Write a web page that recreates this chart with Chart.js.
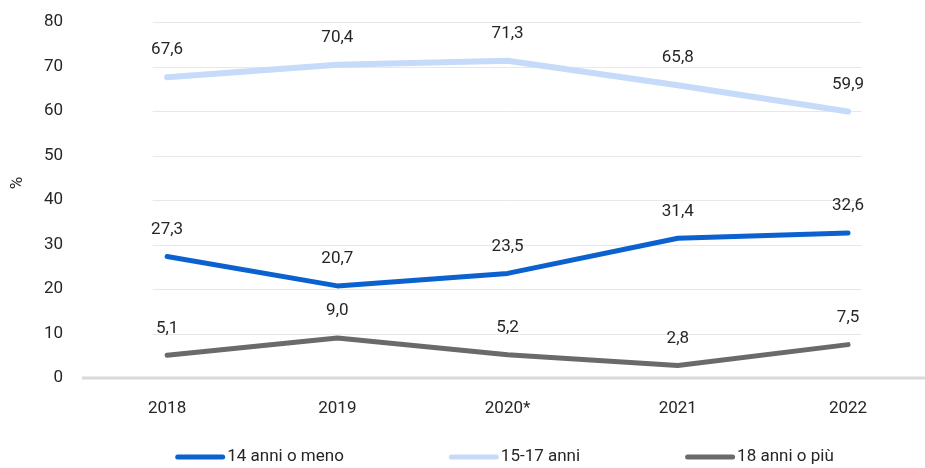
<!DOCTYPE html>
<html>
<head>
<meta charset="utf-8">
<script src="https://cdn.jsdelivr.net/npm/chart.js@4"></script>
<style>
html,body{margin:0;padding:0;background:#fff;}
#wrap{width:925px;height:468px;position:relative;}
</style>
</head>
<body>
<div id="wrap"><canvas id="c" width="925" height="468"></canvas></div>
<script>
const categories = ['2018', '2019', '2020*', '2021', '2022'];
const under14 = [27.3, 20.7, 23.5, 31.4, 32.6];
const age15to17 = [67.6, 70.4, 71.3, 65.8, 59.9];
const over18 = [5.1, 9.0, 5.2, 2.8, 7.5];
const seriesNames = ['14 anni o meno', '15-17 anni', '18 anni o più'];
const yTicks = [0, 10, 20, 30, 40, 50, 60, 70, 80];
const yTitle = '%';

const FONT = "Roboto, 'Liberation Sans', sans-serif";
const colors = ['#0b62cf', '#c6dafa', '#6a6a6a'];

function pts(arr){ return arr.map((v,i)=>({x:i,y:v})); }

const labelPlugin = {
  id: 'valueLabels',
  afterDatasetsDraw(chart){
    const ctx = chart.ctx;
    ctx.save();
    ctx.font = '17px ' + FONT;
    ctx.fillStyle = '#262626';
    ctx.textAlign = 'center';
    ctx.textBaseline = 'middle';
    chart.data.datasets.forEach((ds, di) => {
      const meta = chart.getDatasetMeta(di);
      meta.data.forEach((pt, i) => {
        const v = ds.data[i].y;
        ctx.fillText(v.toFixed(1).replace('.', ','), pt.x, pt.y - 27);
      });
    });
    ctx.translate(18, chart.chartArea.top + 161);
    ctx.rotate(-Math.PI/2);
    ctx.fillText(yTitle, 0, 0);
    ctx.restore();
  }
};

const gridPlugin = {
  id: 'customGrid',
  beforeDatasetsDraw(chart){
    const ctx = chart.ctx;
    const xs = chart.scales.x, ys = chart.scales.y;
    ctx.save();
    ctx.strokeStyle = '#e8e8e8';
    ctx.lineWidth = 1;
    const x0 = xs.getPixelForValue(-0.085), x1 = xs.getPixelForValue(4.08);
    yTicks.forEach(t => {
      if (t === 0) return;
      const y = Math.round(ys.getPixelForValue(t)) + 0.5;
      ctx.beginPath(); ctx.moveTo(x0, y); ctx.lineTo(x1, y); ctx.stroke();
    });
    ctx.strokeStyle = '#d9d9d9';
    ctx.lineWidth = 3;
    const y0 = ys.getPixelForValue(0);
    ctx.beginPath(); ctx.moveTo(chart.chartArea.left, y0); ctx.lineTo(chart.chartArea.right, y0); ctx.stroke();
    ctx.restore();
  }
};

const legendPlugin = {
  id: 'customLegend',
  afterDraw(chart){
    const ctx = chart.ctx;
    ctx.save();
    ctx.font = '17px ' + FONT;
    ctx.textBaseline = 'middle';
    ctx.textAlign = 'left';
    const y = 457, boxW = 50, gapTxt = 2, gapItem = 105;
    const ds = chart.data.datasets;
    const widths = ds.map(d => boxW + gapTxt + ctx.measureText(d.label).width);
    const total = widths.reduce((a,b)=>a+b,0) + gapItem*(ds.length-1);
    let x = 504.5 - total/2;
    ds.forEach((d, i) => {
      ctx.strokeStyle = d.borderColor;
      ctx.lineWidth = 5;
      ctx.lineCap = 'round';
      ctx.beginPath(); ctx.moveTo(x + 2.5, y); ctx.lineTo(x + boxW - 2.5, y); ctx.stroke();
      ctx.fillStyle = '#262626';
      ctx.fillText(d.label, x + boxW + gapTxt, y);
      x += widths[i] + gapItem;
    });
    ctx.restore();
  }
};

const mk = (name, data, color, w) => ({
  label: name, data: pts(data), borderColor: color, backgroundColor: color,
  borderWidth: w, pointRadius: 0, pointHoverRadius: 0, tension: 0,
  borderCapStyle: 'round', borderJoinStyle: 'round', fill: false
});

new Chart(document.getElementById('c'), {
  type: 'line',
  data: {
    datasets: [
      mk(seriesNames[0], under14, colors[0], 5),
      mk(seriesNames[1], age15to17, colors[1], 6),
      mk(seriesNames[2], over18, colors[2], 5)
    ]
  },
  options: {
    responsive: false,
    animation: false,
    devicePixelRatio: 1,
    layout: { padding: { top: 0, right: 0, left: 0, bottom: 0 } },
    scales: {
      x: {
        type: 'linear', min: -0.5, max: 4.452,
        grid: { display: false, drawTicks: false },
        border: { display: false },
        afterBuildTicks(s){ s.ticks = categories.map((c,i)=>({value:i})); },
        afterFit(s){ s.height = 90; },
        ticks: {
          callback: (v) => categories[v],
          font: { family: FONT, size: 17 }, color: '#262626', padding: 21,
          autoSkip: false, maxRotation: 0
        }
      },
      y: {
        min: 0, max: 80,
        afterBuildTicks(s){ s.ticks = yTicks.map(v=>({value:v})); },
        afterFit(s){ s.width = 82; s.paddingTop = 22; },
        grid: { display: false, drawTicks: false },
        border: { display: false },
        ticks: { font: { family: FONT, size: 17 }, color: '#262626', padding: 19 },
        title: { display: false }
      }
    },
    plugins: {
      tooltip: { enabled: false },
      legend: { display: false }
    }
  },
  plugins: [gridPlugin, labelPlugin, legendPlugin]
});
</script>
</body>
</html>
